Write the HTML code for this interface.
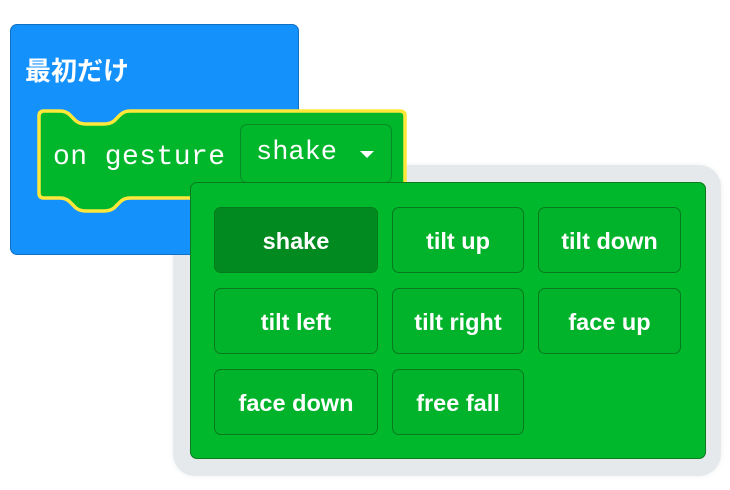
<!DOCTYPE html>
<html><head><meta charset="utf-8"><style>
body{margin:0;width:730px;height:490px;background:#fff;position:relative;overflow:hidden;font-family:"Liberation Sans","Noto Sans CJK JP",sans-serif}
.abs{position:absolute;box-sizing:border-box}
.blue{left:10px;top:24px;width:289px;height:231px;background:#1591fc;border:1px solid #1270c4;border-radius:7px}
.title{left:25px;top:51px;color:#fff;font-size:26px;font-weight:bold}
.dd{left:240px;top:124px;width:152px;height:59px;border:1px solid #0a8a24;border-radius:7px;background:#00b62b;color:#fff;font-family:"Liberation Mono",monospace;font-size:27px;line-height:57px;padding-left:15px}
.shadow{left:173px;top:165px;width:548px;height:311px;background:#e6e9eb;border-radius:22px;box-shadow:0 0 6px #eef0f1}
.panel{left:190px;top:182px;width:516px;height:277px;background:#00b82c;border:1.5px solid #0a7a1f;border-radius:7px}
.b{position:absolute;box-sizing:border-box;border:1.5px solid #087a1e;border-radius:7px;background:#00b32b;color:#fff;font-weight:bold;font-size:23.5px;text-align:center;line-height:66px;height:66px}
</style></head><body>
<div class="abs shadow"></div>
<div class="abs blue"></div>
<div class="abs title">最初だけ</div>
<svg class="abs" style="left:0;top:0" width="420" height="230">
<path d="M48,111 H60 Q66,111 70,115 L76,121 Q80,124 86,124 H104 Q110,124 114,121 L120,115 Q124,111 130,111 H400 Q405,111 405,116 V193 Q405,198 400,198 H130 Q124,198 120,202 L114,208 Q110,211 104,211 H86 Q80,211 76,208 L70,202 Q66,198 60,198 H44 Q39,198 39,193 V116 Q39,111 44,111 Z" fill="#00b62b" stroke="#ffe83a" stroke-width="3.5"/>
<text x="53" y="164" fill="#fff" font-family="Liberation Mono, monospace" font-size="28" textLength="172">on gesture</text>
</svg>
<div class="abs dd">shake<span style="position:absolute;left:119px;top:26px;width:0;height:0;border-left:7px solid transparent;border-right:7px solid transparent;border-top:7px solid #fff"></span></div>
<div class="abs panel"></div>
<div class="b" style="left:214px;top:207px;width:164px;background:#008a1f">shake</div>
<div class="b" style="left:392px;top:207px;width:132px">tilt up</div>
<div class="b" style="left:538px;top:207px;width:143px">tilt down</div>
<div class="b" style="left:214px;top:288px;width:164px">tilt left</div>
<div class="b" style="left:392px;top:288px;width:132px">tilt right</div>
<div class="b" style="left:538px;top:288px;width:143px">face up</div>
<div class="b" style="left:214px;top:369px;width:164px">face down</div>
<div class="b" style="left:392px;top:369px;width:132px">free fall</div>
</body></html>
